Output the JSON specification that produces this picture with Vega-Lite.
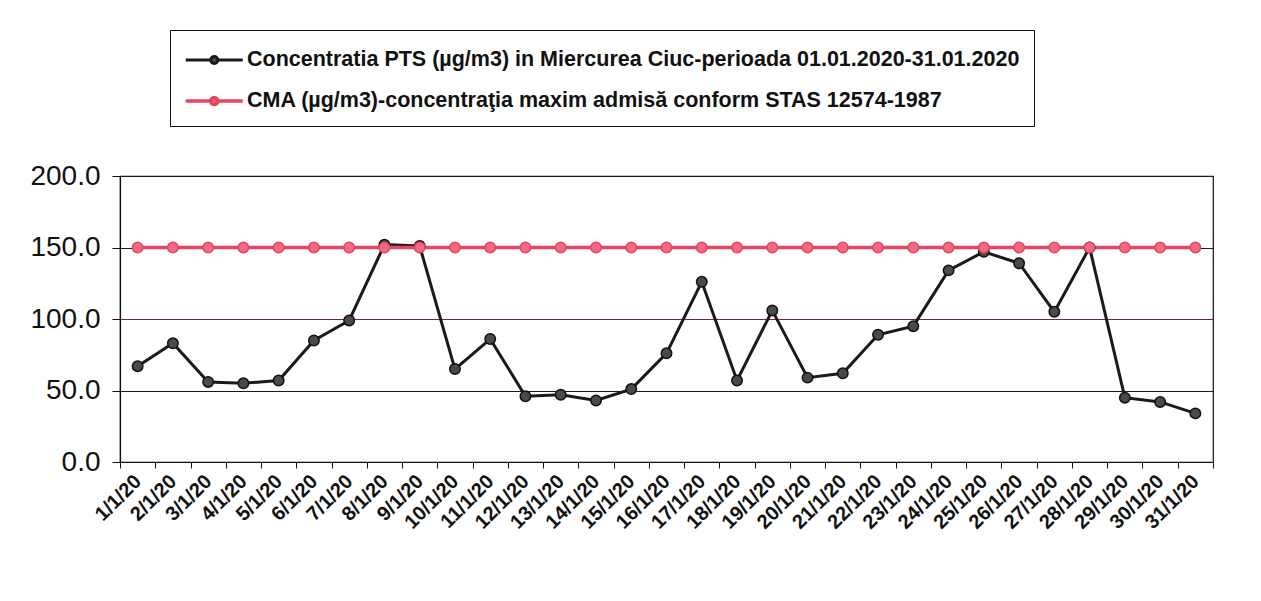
{
  "$schema": "https://vega.github.io/schema/vega-lite/v6.json",
  "width": 1093,
  "height": 286,
  "autosize": {"type": "none"},
  "padding": {"left": 120, "top": 176, "right": 48, "bottom": 139},
  "background": "white",
  "config": {
    "font": "Liberation Sans",
    "view": {"stroke": "#111", "strokeWidth": 1.2}
  },
  "data": {
    "values": [
      {"date": "1/1/20", "PTS": 67, "CMA": 150},
      {"date": "2/1/20", "PTS": 83, "CMA": 150},
      {"date": "3/1/20", "PTS": 56, "CMA": 150},
      {"date": "4/1/20", "PTS": 55, "CMA": 150},
      {"date": "5/1/20", "PTS": 57, "CMA": 150},
      {"date": "6/1/20", "PTS": 85, "CMA": 150},
      {"date": "7/1/20", "PTS": 99, "CMA": 150},
      {"date": "8/1/20", "PTS": 152, "CMA": 150},
      {"date": "9/1/20", "PTS": 151, "CMA": 150},
      {"date": "10/1/20", "PTS": 65, "CMA": 150},
      {"date": "11/1/20", "PTS": 86, "CMA": 150},
      {"date": "12/1/20", "PTS": 46, "CMA": 150},
      {"date": "13/1/20", "PTS": 47, "CMA": 150},
      {"date": "14/1/20", "PTS": 43, "CMA": 150},
      {"date": "15/1/20", "PTS": 51, "CMA": 150},
      {"date": "16/1/20", "PTS": 76, "CMA": 150},
      {"date": "17/1/20", "PTS": 126, "CMA": 150},
      {"date": "18/1/20", "PTS": 57, "CMA": 150},
      {"date": "19/1/20", "PTS": 106, "CMA": 150},
      {"date": "20/1/20", "PTS": 59, "CMA": 150},
      {"date": "21/1/20", "PTS": 62, "CMA": 150},
      {"date": "22/1/20", "PTS": 89, "CMA": 150},
      {"date": "23/1/20", "PTS": 95, "CMA": 150},
      {"date": "24/1/20", "PTS": 134, "CMA": 150},
      {"date": "25/1/20", "PTS": 147, "CMA": 150},
      {"date": "26/1/20", "PTS": 139, "CMA": 150},
      {"date": "27/1/20", "PTS": 105, "CMA": 150},
      {"date": "28/1/20", "PTS": 150, "CMA": 150},
      {"date": "29/1/20", "PTS": 45, "CMA": 150},
      {"date": "30/1/20", "PTS": 42, "CMA": 150},
      {"date": "31/1/20", "PTS": 34, "CMA": 150}
    ]
  },
  "transform": [{"fold": ["PTS", "CMA"], "as": ["series", "value"]}],
  "encoding": {
    "x": {
      "field": "date",
      "type": "ordinal",
      "sort": null,
      "bandPosition": 0.5,
      "scale": {"type": "band", "paddingInner": 0, "paddingOuter": 0},
      "axis": {
        "title": null,
        "labelAngle": -45,
        "labelAlign": "right",
        "labelBaseline": "middle",
        "tickBand": "extent",
        "labelFontSize": 20,
        "labelFontWeight": "bold",
        "labelColor": "#111",
        "labelPadding": 10,
        "domainColor": "#111",
        "domainWidth": 1.2,
        "tickColor": "#111",
        "tickSize": 6,
        "grid": false
      }
    },
    "y": {
      "field": "value",
      "type": "quantitative",
      "scale": {"domain": [0, 200], "nice": false},
      "axis": {
        "title": null,
        "values": [0, 50, 100, 150, 200],
        "format": ".1f",
        "labelFontSize": 28,
        "labelColor": "#111",
        "labelPadding": 12,
        "tickSize": 8,
        "tickColor": "#111",
        "domainColor": "#111",
        "domainWidth": 1.2,
        "grid": true,
        "gridColor": {"condition": {"test": "datum.value === 100", "value": "#6e2a33"}, "value": "#1a1a1a"},
        "gridWidth": 1.2
      }
    }
  },
  "layer": [
    {
      "mark": {"type": "line"},
      "encoding": {
        "color": {
          "field": "series",
          "type": "nominal",
          "scale": {"domain": ["PTS", "CMA"], "range": ["#1a1a1a", "#e8445f"]},
          "legend": {
            "title": null,
            "orient": "none",
            "legendX": 50,
            "legendY": -146,
            "direction": "vertical",
            "symbolType": "M-1,0H0.75A0.25,0.25,0,1,1,1.25,0A0.25,0.25,0,1,1,0.75,0M1.25,0H3",
            "symbolSize": 812,
            "symbolStrokeWidth": 3.5,
            "labelOffset": 31,
            "labelFontSize": 21.5,
            "labelFontWeight": "bold",
            "labelColor": "#111",
            "labelLimit": 0,
            "rowPadding": 14,
            "padding": 14,
            "strokeColor": "#111",
            "fillColor": "white",
            "labelExpr": "datum.label === 'PTS' ? 'Concentratia PTS (µg/m3) in Miercurea Ciuc-perioada 01.01.2020-31.01.2020' : 'CMA (µg/m3)-concentraţia maxim admisă conform STAS 12574-1987'"
          }
        },
        "strokeWidth": {
          "field": "series",
          "type": "nominal",
          "scale": {"domain": ["PTS", "CMA"], "range": [3, 3.5]},
          "legend": null
        }
      }
    },
    {
      "mark": {"type": "point", "filled": true, "size": 110, "strokeWidth": 1.5, "opacity": 1},
      "encoding": {
        "fill": {
          "field": "series",
          "type": "nominal",
          "scale": {"domain": ["PTS", "CMA"], "range": ["#4a4a4a", "#ef6a82"]},
          "legend": null
        },
        "stroke": {
          "field": "series",
          "type": "nominal",
          "scale": {"domain": ["PTS", "CMA"], "range": ["#111111", "#e8445f"]},
          "legend": null
        }
      }
    }
  ]
}
